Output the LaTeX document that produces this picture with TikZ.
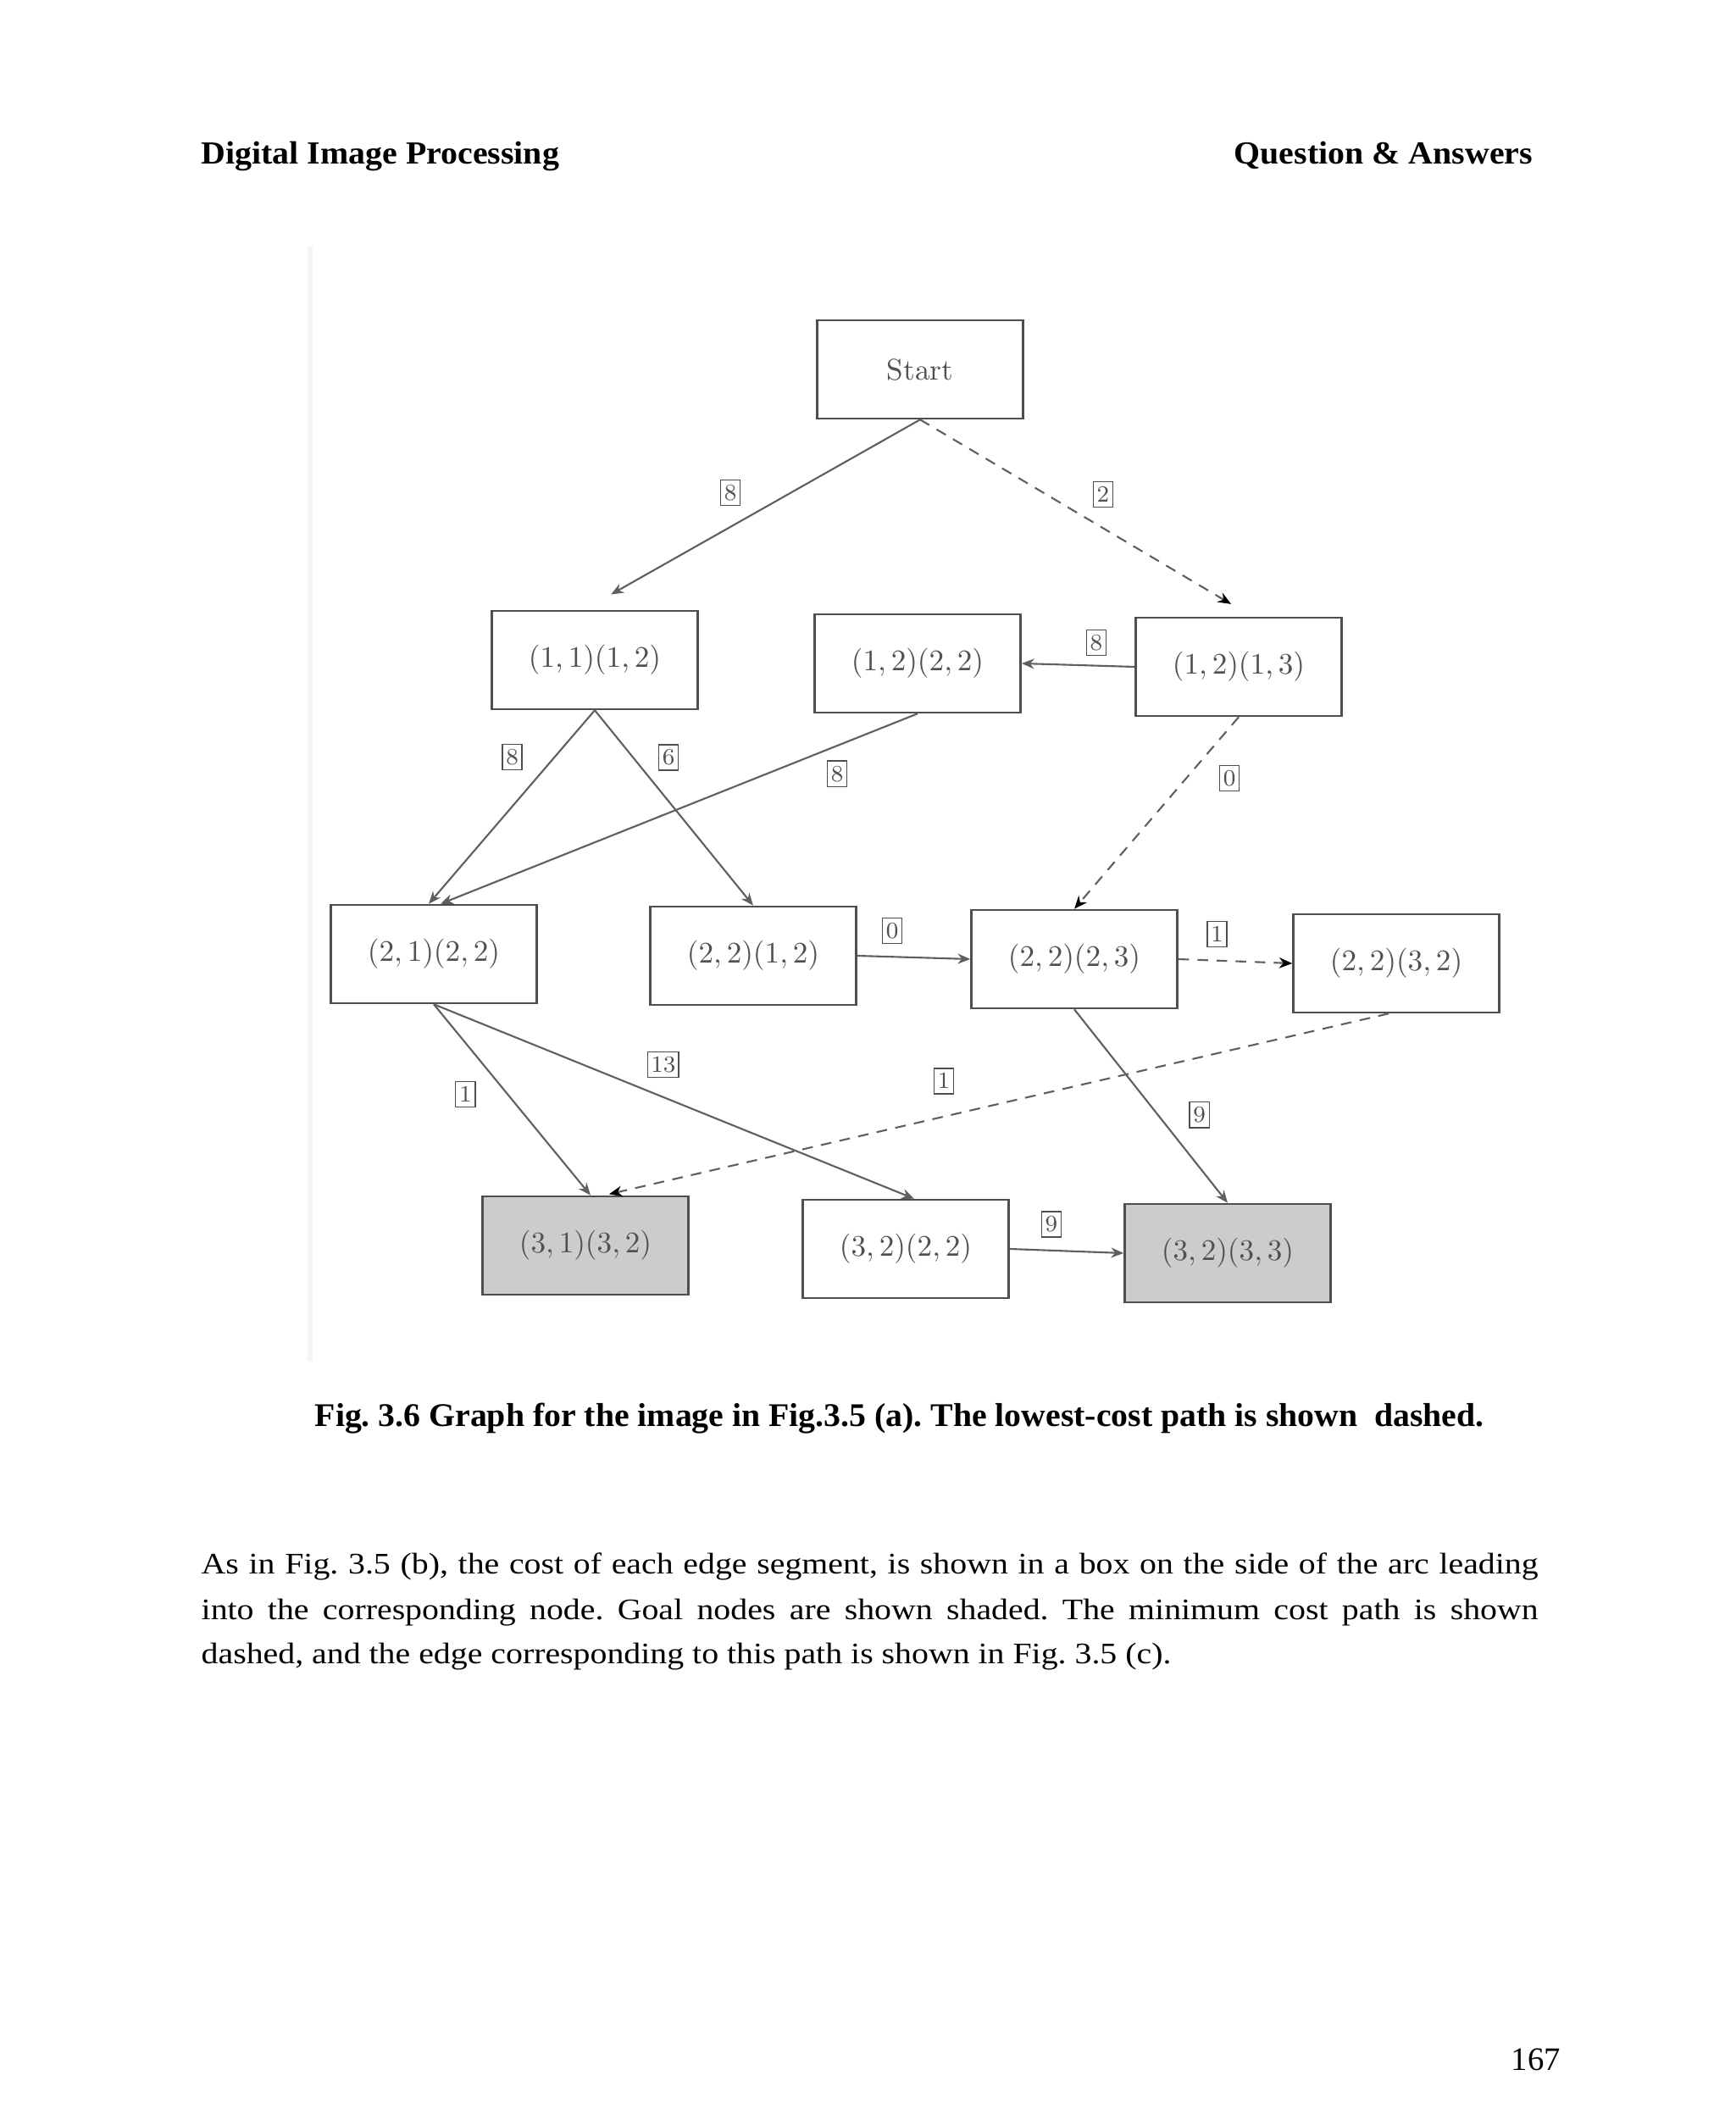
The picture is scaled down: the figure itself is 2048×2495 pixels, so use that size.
\documentclass[tikz,border=0pt]{standalone}
\usepackage{fontspec}
\usepackage{graphicx}
\usetikzlibrary{arrows.meta, positioning, calc}
\newfontfamily\timesrm{Liberation Serif}
\frenchspacing
\definecolor{boxgray}{RGB}{78,78,78}
\definecolor{linegray}{RGB}{95,95,95}
\definecolor{textgray}{RGB}{80,80,80}
\definecolor{goalgray}{RGB}{203,205,205}
\definecolor{scanedge}{RGB}{242,244,248}

\begin{document}
\begin{tikzpicture}[x=0.01cm, y=-0.01cm,
  state/.style={draw=boxgray, line width=0.7pt, minimum width=2.43cm, minimum height=1.16cm,
                inner sep=0pt, text=textgray, font=\fontsize{10}{12}\selectfont},
  goal/.style={state, fill=goalgray},
  cost/.style={draw=boxgray, solid, line width=0.4pt, inner sep=1pt, minimum width=0.23cm,
               minimum height=0.3cm, text=textgray, font=\fontsize{7.8}{9}\selectfont},
  arc/.style={-{Stealth[length=4.2pt, width=3.4pt]}, linegray, line width=0.6pt},
  best/.style={arc, dash pattern=on 3.6pt off 2.8pt, -{Stealth[length=4.4pt, width=3.6pt, color=black]}},
  pagetext/.style={inner sep=0pt, anchor=base west, text=black}
]
\fill[white] (0,0) rectangle (2048,2495);
\useasboundingbox (0,0) rectangle (2048,2495);

% page head
\node[pagetext] (headl) at (237,194)
  {\resizebox{4.22cm}{\height}{\timesrm\bfseries\fontsize{10.8}{13}\selectfont Digital Image Processing}};
\node[pagetext] (headr) at (1456,194)
  {\resizebox{3.52cm}{\height}{\timesrm\bfseries\fontsize{10.8}{13}\selectfont Question \& Answers}};

% edge of the scanned figure
\fill[scanedge] (363,291) rectangle (369,1607);

% states
\node[state] (start) at (1086,436) {Start};
\node[state] (n1112) at (702,779) {$(1,1)(1,2)$};
\node[state] (n1222) at (1083,783) {$(1,2)(2,2)$};
\node[state] (n1213) at (1462,787) {$(1,2)(1,3)$};
\node[state] (n2122) at (512,1126) {$(2,1)(2,2)$};
\node[state] (n2212) at (889,1128) {$(2,2)(1,2)$};
\node[state] (n2223) at (1268,1132) {$(2,2)(2,3)$};
\node[state] (n2232) at (1648,1137) {$(2,2)(3,2)$};
\node[goal]  (n3132) at (691,1470) {$(3,1)(3,2)$};
\node[state] (n3222) at (1069,1474) {$(3,2)(2,2)$};
\node[goal]  (n3233) at (1449,1479) {$(3,2)(3,3)$};

% arcs with their costs
\draw[arc, shorten >=0.37cm] (start.south) -- ([xshift=-0.13cm]n1112.north)
  node[cost, pos=0.385, xshift=-0.71cm] (w1) {8};
\draw[best, shorten >=0.29cm] (start.south) -- ([xshift=0.16cm]n1213.north)
  node[cost, pos=0.38, xshift=0.67cm] (w2) {2};
\draw[arc] (n1213.west) -- (n1222.east)
  node[cost, pos=0.34, yshift=0.27cm] (w3) {8};
\draw[arc] (n1112.south) -- ([xshift=-0.06cm]n2122.north)
  node[cost, pos=0.242, xshift=-0.5cm] (w4) {8};
\draw[arc] (n1112.south) -- (n2212.north)
  node[cost, pos=0.241, xshift=0.42cm] (w5) {6};
\draw[arc] (n1222.south) -- ([xshift=0.08cm]n2122.north)
  node[cost, pos=0.316, xshift=0.83cm] (w6) {8};
\draw[best] (n1213.south) -- (n2223.north)
  node[cost, pos=0.319, xshift=0.51cm] (w7) {0};
\draw[arc] (n2212.east) -- (n2223.west)
  node[cost, pos=0.31, yshift=0.31cm] (w8) {0};
\draw[best] (n2223.east) -- (n2232.west)
  node[cost, pos=0.34, yshift=0.31cm] (w9) {1};
\draw[arc] (n2122.south) -- ([xshift=0.06cm]n3132.north)
  node[cost, pos=0.472, xshift=-0.5cm] (w10) {1};
\draw[arc] (n2122.south) -- ([xshift=0.10cm]n3222.north)
  node[cost, pos=0.31, xshift=0.95cm] (w11) {13};
\draw[arc] (n2223.south) -- (n3233.north)
  node[cost, pos=0.545, xshift=0.49cm] (w12) {9};
\draw[best, shorten >=0.06cm] ([xshift=-0.09cm]n2232.south) -- ([xshift=0.22cm]n3132.north)
  node[cost, pos=0.567, yshift=0.42cm] (w13) {1};
\draw[arc] (n3222.east) -- (n3233.west)
  node[cost, pos=0.365, yshift=0.31cm] (w14) {9};

% caption and text
\node[pagetext] (caption) at (371,1683)
  {\resizebox{13.79cm}{\height}{\timesrm\bfseries\fontsize{11.1}{13}\selectfont Fig. 3.6 Graph for the image in Fig.3.5 (a). The lowest-cost path is shown\ \ dashed.}};
\node[pagetext] (para1) at (237,1857)
  {\resizebox{15.77cm}{\height}{\makebox[13.93cm][s]{\timesrm\fontsize{10}{12}\selectfont As in Fig. 3.5 (b), the cost of each edge segment, is shown in a box on the side of the arc leading}}};
\node[pagetext] (para2) at (237,1911)
  {\resizebox{15.77cm}{\height}{\makebox[13.93cm][s]{\timesrm\fontsize{10}{12}\selectfont into the corresponding node. Goal nodes are shown shaded. The minimum cost path is shown}}};
\node[pagetext] (para3) at (237,1963)
  {\resizebox{11.44cm}{\height}{\timesrm\fontsize{10}{12}\selectfont dashed, and the edge corresponding to this path is shown in Fig. 3.5 (c).}};
\node[pagetext] (pageno) at (1783,2443) {\timesrm\fontsize{11}{13}\selectfont 167};
\end{tikzpicture}
\end{document}
